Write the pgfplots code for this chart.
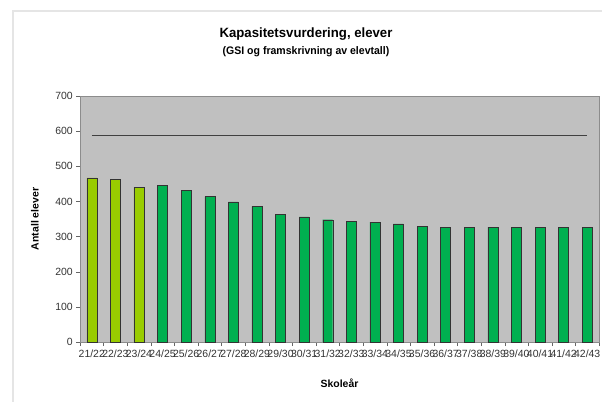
\documentclass[border=0pt]{standalone}
\usepackage{pgfplots}
\pgfplotsset{compat=1.18}
\usepackage{fontspec}
\setmainfont{Liberation Sans}

\definecolor{lightgr}{HTML}{99CC00}
\definecolor{mgreen}{HTML}{00B050}
\definecolor{plotbg}{HTML}{C0C0C0}

\begin{document}
\begin{tikzpicture}[x=1bp,y=1bp]
\path[use as bounding box] (0,0) rectangle (602,402);
% chart frame (partly visible)
\draw[line width=2bp, color=black!10] (13,0) -- (13,391) -- (602,391);

\node[font=\fontsize{13.5}{15}\selectfont\bfseries, xscale=0.98] at (306,368) {Kapasitetsvurdering, elever};
\node[font=\fontsize{11}{12}\selectfont\bfseries, xscale=0.96] at (306,350) {(GSI og framskrivning av elevtall)};

\begin{axis}[
    at={(80bp,60bp)}, anchor=south west,
    scale only axis,
    width=519bp, height=246bp,
    axis background/.style={fill=plotbg},
    axis line style={draw=black!45},
    xmin=-0.5, xmax=21.5,
    ymin=0, ymax=700,
    ytick={0,100,...,700},
    xtick={0,...,21},
    xticklabels={21/22,22/23,23/24,24/25,25/26,26/27,27/28,28/29,29/30,30/31,31/32,32/33,33/34,34/35,35/36,36/37,37/38,38/39,39/40,40/41,41/42,42/43},
    minor xtick={-0.5,0.5,...,21.5},
    major x tick style={draw=none},
    minor tick length=4bp,
    major tick length=4bp,
    tick align=outside,
    tick pos=left,
    tick style={black!60},
    /pgf/number format/assume math mode=true,
    ticklabel style={font=\fontsize{10.5}{12}\selectfont, color=black!80},
    xticklabel style={inner sep=1bp, yshift=-3bp, font=\fontsize{10.5}{11}\selectfont},
    yticklabel style={inner sep=1bp, xshift=-2bp},
    xlabel={Skoleår},
    ylabel={Antall elever},
    label style={font=\fontsize{10.5}{12}\selectfont\bfseries},
    xlabel style={yshift=-16bp},
    ylabel style={yshift=12bp},
    ybar, bar width=10bp, bar shift=0pt,
]
\addplot[ybar, fill=lightgr, draw=black!80] coordinates {(0,467) (1,462) (2,440)};
\addplot[ybar, fill=mgreen, draw=black!80] coordinates {
(3,445) (4,431) (5,414) (6,399) (7,386) (8,363) (9,356) (10,348)
(11,344) (12,341) (13,336) (14,330) (15,327) (16,327) (17,327)
(18,327) (19,327) (20,327) (21,327)};
\addplot[sharp plot, draw=black!75, line width=1.3bp] coordinates {(0,587) (21,587)};
\end{axis}
\end{tikzpicture}
\end{document}
